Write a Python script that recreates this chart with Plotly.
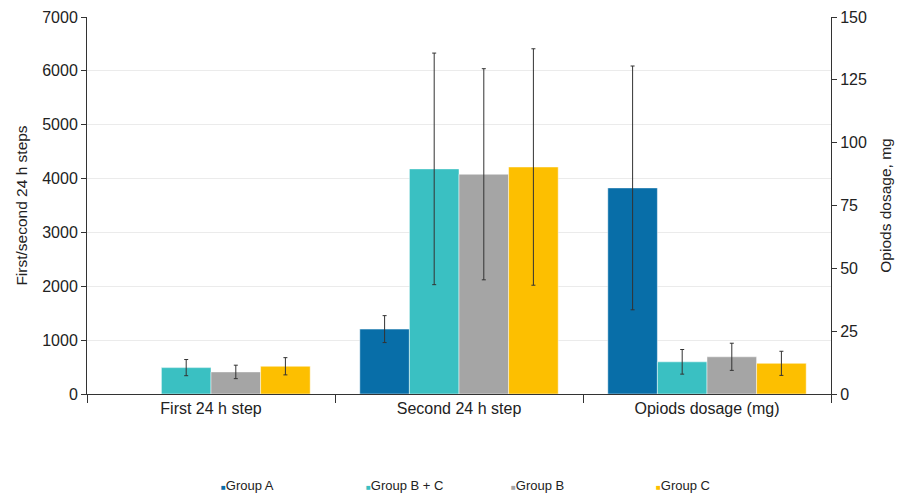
import plotly.graph_objects as go

# Categories and groups
categories = ["First 24 h step", "Second 24 h step", "Opiods dosage (mg)"]
groups = ["Group A", "Group B + C", "Group B", "Group C"]
colors = ["#086EA8", "#3AC0C2", "#A5A5A5", "#FDBF00"]

# Steps (left axis): first and second 24 h
steps_mean = {
    "Group A": [None, 1205],
    "Group B + C": [490, 4180],
    "Group B": [410, 4080],
    "Group C": [515, 4215],
}
steps_sd = {
    "Group A": [None, 250],
    "Group B + C": [150, 2150],
    "Group B": [125, 1960],
    "Group C": [160, 2195],
}

# Opioid dosage in mg (right axis)
opioid_mean = {"Group A": 82.0, "Group B + C": 12.8, "Group B": 14.8, "Group C": 12.2}
opioid_sd = {"Group A": 48.5, "Group B + C": 4.9, "Group B": 5.4, "Group C": 4.8}

bar_w = 0.2
offsets = [-0.4, -0.2, 0.0, 0.2]
err_style = dict(type="data", thickness=1, width=2, color="#333333")

fig = go.Figure()
for g, c, off in zip(groups, colors, offsets):
    fig.add_trace(go.Bar(
        x=categories[:2], y=steps_mean[g], width=bar_w, offset=off,
        marker=dict(color=c, line=dict(color="rgba(255,255,255,0.6)", width=0.8)),
        error_y=dict(array=steps_sd[g], **err_style),
        showlegend=False, yaxis="y", name=g,
    ))
    fig.add_trace(go.Bar(
        x=[categories[2]], y=[opioid_mean[g]], width=bar_w, offset=off,
        marker=dict(color=c, line=dict(color="rgba(255,255,255,0.6)", width=0.8)),
        error_y=dict(array=[opioid_sd[g]], **err_style),
        showlegend=False, yaxis="y2", name=g,
    ))
    # legend key: small coloured square followed by the group name
    fig.add_trace(go.Scatter(
        x=[None], y=[None], mode="none", showlegend=True,
        name=f'<span style="color:{c};font-size:8px">■</span>{g}',
    ))

font_family = "Liberation Sans, Arial, Helvetica, sans-serif"
fig.update_layout(
    width=898, height=494,
    margin=dict(l=87, r=67, t=17, b=100, autoexpand=False),
    paper_bgcolor="white", plot_bgcolor="white",
    barmode="overlay",
    font=dict(family=font_family, size=16, color="#222222"),
    xaxis=dict(
        type="category", categoryorder="array", categoryarray=categories,
        range=[-0.5, 2.5], showline=True, linecolor="#333333", linewidth=1,
        ticks="outside", tickson="boundaries", ticklen=8, tickcolor="#333333",
        tickfont=dict(size=16), showgrid=False, automargin=False,
    ),
    yaxis=dict(
        range=[0, 7000], dtick=1000, showline=True, linecolor="#333333", linewidth=1,
        ticks="outside", ticklen=5, tickcolor="#333333",
        showgrid=True, gridcolor="#EBEBEB", gridwidth=1, zeroline=False,
        tickfont=dict(size=16), automargin=False,
        title=dict(text="First/second 24 h steps", font=dict(size=15.5), standoff=10),
    ),
    yaxis2=dict(
        range=[0, 150], dtick=25, overlaying="y", side="right",
        showline=True, linecolor="#333333", linewidth=1,
        ticks="outside", ticklen=5, tickcolor="#333333",
        showgrid=False, zeroline=False, tickfont=dict(size=16), automargin=False,
        title=dict(text="Opiods dosage, mg", font=dict(size=15.5), standoff=14),
    ),
    legend=dict(
        orientation="h", x=(181 - 87) / 744, xref="paper", xanchor="left",
        yref="container", y=0.018, yanchor="middle",
        font=dict(size=13), entrywidth=100, entrywidthmode="pixels", itemwidth=30,
    ),
)

fig.write_html("out.html")
